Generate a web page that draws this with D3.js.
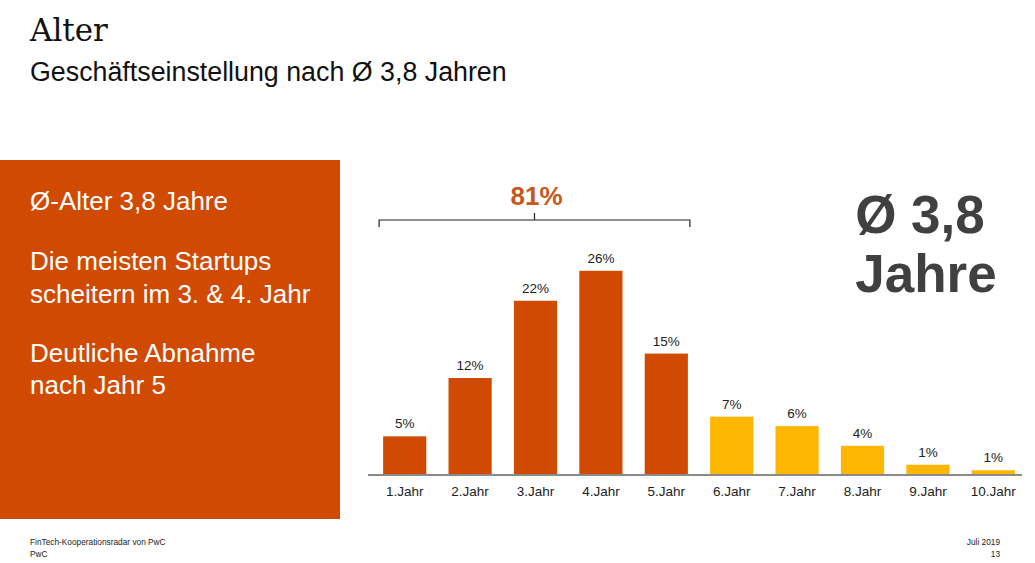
<!DOCTYPE html>
<html><head><meta charset="utf-8">
<script src="https://cdn.jsdelivr.net/npm/d3@7/dist/d3.min.js"></script>
<style>html,body{margin:0;padding:0;background:#fff;overflow:hidden}</style>
</head><body><svg id="c" width="1035" height="563"></svg>
<script>
const categories = ["1.Jahr","2.Jahr","3.Jahr","4.Jahr","5.Jahr","6.Jahr","7.Jahr","8.Jahr","9.Jahr","10.Jahr"];
const values = [4.9, 12.3, 22.1, 25.9, 15.4, 7.4, 6.2, 3.7, 1.3, 0.6];
const valueLabels = ["5%","12%","22%","26%","15%","7%","6%","4%","1%","1%"];
const groups = ["early","early","early","early","early","late","late","late","late","late"];
const bracketLabel = "81%";
const bullets = [["Ø-Alter 3,8 Jahre"],["Die meisten Startups","scheitern im 3. & 4. Jahr"],["Deutliche Abnahme","nach Jahr 5"]];

const svg = d3.select("#c");
const sans = "'Liberation Sans', Arial, sans-serif";
const orange = "#D04A02", yellow = "#FFB600";

// Titles
svg.append("text").attr("x",30).attr("y",41).attr("font-family","'DejaVu Serif', 'Liberation Serif', serif")
  .attr("font-size",31).attr("fill","#111").text("Alter");
svg.append("text").attr("x",30).attr("y",81).attr("font-family",sans)
  .attr("font-size",26.8).attr("fill","#111").text("Geschäftseinstellung nach Ø 3,8 Jahren");

// Left box
svg.append("rect").attr("x",0).attr("y",160).attr("width",340).attr("height",359).attr("fill",orange);
const lineY = [210, 270, 303, 362, 394];
const flat = bullets.flat();
flat.forEach((t,i)=>{
  svg.append("text").attr("x",30).attr("y",lineY[i]).attr("font-family",sans)
    .attr("font-size",26).attr("fill","#fff").text(t);
});

// Chart
const x = d3.scaleBand().domain(categories).range([372,1026]).paddingInner(0.34).paddingOuter(0.17);
const y = d3.scaleLinear().domain([0,26]).range([475,270]);

svg.selectAll("rect.bar").data(values).join("rect").attr("class","bar")
  .attr("x",(d,i)=>x(categories[i])).attr("width",x.bandwidth())
  .attr("y",d=>y(d)).attr("height",d=>y(0)-y(d))
  .attr("fill",(d,i)=>groups[i]==="early"?orange:yellow);

svg.selectAll("text.vl").data(values).join("text").attr("class","vl")
  .attr("x",(d,i)=>x(categories[i])+x.bandwidth()/2).attr("y",d=>y(d)-8)
  .attr("text-anchor","middle").attr("font-family",sans).attr("font-size",13.5).attr("fill","#222")
  .text((d,i)=>valueLabels[i]);

const axis = d3.axisBottom(x).tickSize(0).tickPadding(11);
const g = svg.append("g").attr("transform",`translate(0,${y(0)})`).call(axis);
g.select(".domain").attr("stroke","#8a8a8a").attr("stroke-width",2).attr("d","M368,0H1022");
g.selectAll("text").attr("font-family",sans).attr("font-size",13.5).attr("fill","#222");

// Bracket over early group
const x0 = x(categories[0]) - 4, x1 = x(categories[4]) + x.bandwidth() + 2;
const xm = (x0+x1)/2;
svg.append("path").attr("d",`M${x0},227V220H${x1}V227M${xm},220V213`)
  .attr("fill","none").attr("stroke","#222").attr("stroke-width",1.2);
svg.append("text").attr("x",xm+2).attr("y",205).attr("text-anchor","middle").attr("font-family",sans)
  .attr("font-size",26).attr("font-weight","bold").attr("fill","#C9561A").text(bracketLabel);

// Big average
svg.append("text").attr("x",920).attr("y",233).attr("text-anchor","middle").attr("font-family",sans)
  .attr("font-size",53).attr("font-weight","bold").attr("fill","#404040").text("Ø 3,8");
svg.append("text").attr("x",926).attr("y",292).attr("text-anchor","middle").attr("font-family",sans)
  .attr("font-size",53).attr("font-weight","bold").attr("fill","#404040").text("Jahre");

// Footer
svg.append("text").attr("x",30).attr("y",545).attr("font-family",sans).attr("font-size",8.3).attr("fill","#222").text("FinTech-Kooperationsradar von PwC");
svg.append("text").attr("x",30).attr("y",557).attr("font-family",sans).attr("font-size",8.3).attr("fill","#222").text("PwC");
svg.append("text").attr("x",1000).attr("y",545).attr("text-anchor","end").attr("font-family",sans).attr("font-size",8.3).attr("fill","#222").text("Juli 2019");
svg.append("text").attr("x",1000).attr("y",557).attr("text-anchor","end").attr("font-family",sans).attr("font-size",8.3).attr("fill","#222").text("13");
</script></body></html>
